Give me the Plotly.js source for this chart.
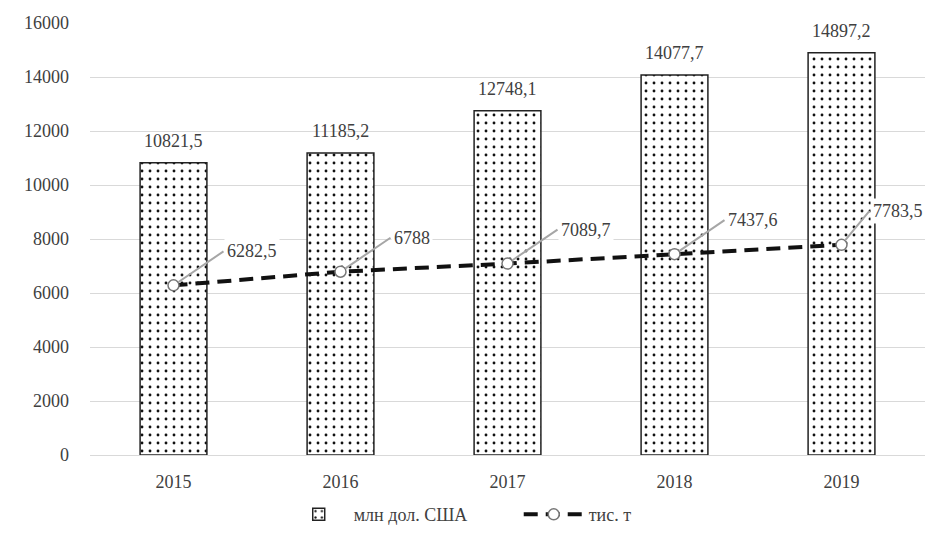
<!DOCTYPE html>
<html><head><meta charset="utf-8">
<script src="https://cdn.plot.ly/plotly-3.0.1.min.js"></script>
<style>body{margin:0;background:#fff}#c{width:935px;height:545px}</style>
</head><body><div id="c"></div>
<script>
const years = ['2015','2016','2017','2018','2019'];
const usdMln = [10821.5, 11185.2, 12748.1, 14077.7, 14897.2];
const thTonnes = [6282.5, 6788, 7089.7, 7437.6, 7783.5];
const seriesNames = ['млн дол. США', 'тис. т'];
const yTicks = [0,2000,4000,6000,8000,10000,12000,14000,16000];

const fmt = v => String(v).replace('.', ',');
const idx = years.map((_, i) => i);
const FONT = 'Liberation Serif, Times New Roman, serif';
const TXT = '#404040';
const FS = 18;

const bars = {
  type: 'bar', x: idx, y: usdMln, name: seriesNames[0], width: 0.4,
  marker: {color: 'white', line: {color: '#222', width: 1.5},
    pattern: {shape: '.', fgcolor: '#111', bgcolor: 'white', size: 8, solidity: 0.1}},
  hoverinfo: 'skip'
};
const line = {
  type: 'scatter', mode: 'lines+markers', x: idx, y: thTonnes, name: seriesNames[1],
  line: {color: '#111', width: 4, dash: '14px,8px'},
  marker: {symbol: 'circle', size: 11, color: 'white', line: {color: '#777', width: 1.5}},
  hoverinfo: 'skip'
};

const annotations = [];
idx.forEach(i => {
  annotations.push({x: i, y: usdMln[i], text: fmt(usdMln[i]), showarrow: false,
    yanchor: 'bottom', yshift: 10, font: {family: FONT, size: FS, color: TXT}});
  annotations.push({x: i, y: thTonnes[i], text: fmt(thTonnes[i]), showarrow: true,
    arrowhead: 0, arrowwidth: 2, arrowcolor: '#a6a6a6',
    ax: i === idx.length - 1 ? 28 : 50, ay: -34, xanchor: 'left', standoff: 6,
    bgcolor: 'white', borderpad: 2, font: {family: FONT, size: FS, color: TXT}});
});

const layout = {
  width: 935, height: 545,
  margin: {l: 90, r: 10, t: 23, b: 90},
  paper_bgcolor: 'white', plot_bgcolor: 'white',
  font: {family: FONT, size: FS, color: TXT},
  showlegend: true,
  legend: {orientation: 'h', x: 0.232, xanchor: 'left', y: -0.138, yanchor: 'middle',
    itemwidth: 60, entrywidth: 160,
    font: {family: FONT, size: FS, color: TXT}},
  xaxis: {range: [-0.5, 4.5], tickvals: idx, ticktext: years, showgrid: false, zeroline: false,
    showline: false, ticks: '', ticklabelstandoff: 14, tickfont: {family: FONT, size: FS, color: TXT}},
  yaxis: {range: [0, 16000], tickvals: yTicks, ticktext: yTicks.map(String),
    showgrid: true, gridcolor: '#d9d9d9', gridwidth: 1, zeroline: true, zerolinecolor: '#d9d9d9',
    zerolinewidth: 1, showline: false, ticks: '', ticklabelstandoff: 20,
    tickfont: {family: FONT, size: FS, color: TXT}},
  annotations: annotations
};
Plotly.newPlot('c', [bars, line], layout, {staticPlot: true});
</script></body></html>
